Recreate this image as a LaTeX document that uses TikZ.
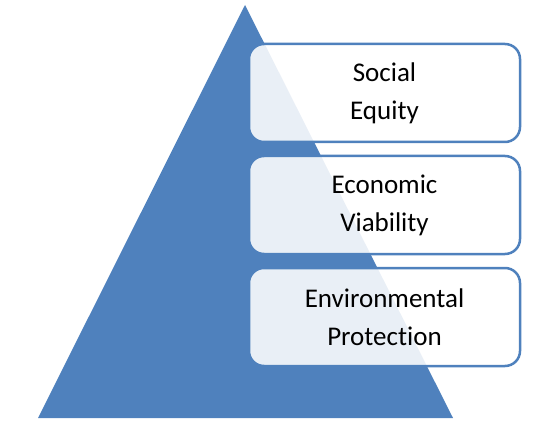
\documentclass[tikz,border=0pt]{standalone}
\usepackage{fontspec}
\setmainfont[Ligatures=NoCommon]{Carlito}
\definecolor{pyr}{HTML}{4F81BD}
\begin{document}
\begin{tikzpicture}[x=1pt,y=-1pt,
  tier/.style={draw=pyr, line width=2.5pt, fill=white, fill opacity=0.88, text opacity=1,
    rounded corners=15pt, minimum width=271pt, minimum height=98pt, align=center,
    font=\fontsize{27}{38}\selectfont, inner sep=0pt}]
\useasboundingbox (0,0) rectangle (548,438);
\fill[pyr] (245,5) coordinate (apex) -- (453,418) coordinate (br) -- (38,418) coordinate (bl) -- cycle;
\node[tier] (social) at (384.5,93) {Social\\Equity};
\node[tier] (econ) at (384.5,205) {Economic\\Viability};
\node[tier] (env) at (384.5,317) {Environmental\\Protection};
\end{tikzpicture}
\end{document}
